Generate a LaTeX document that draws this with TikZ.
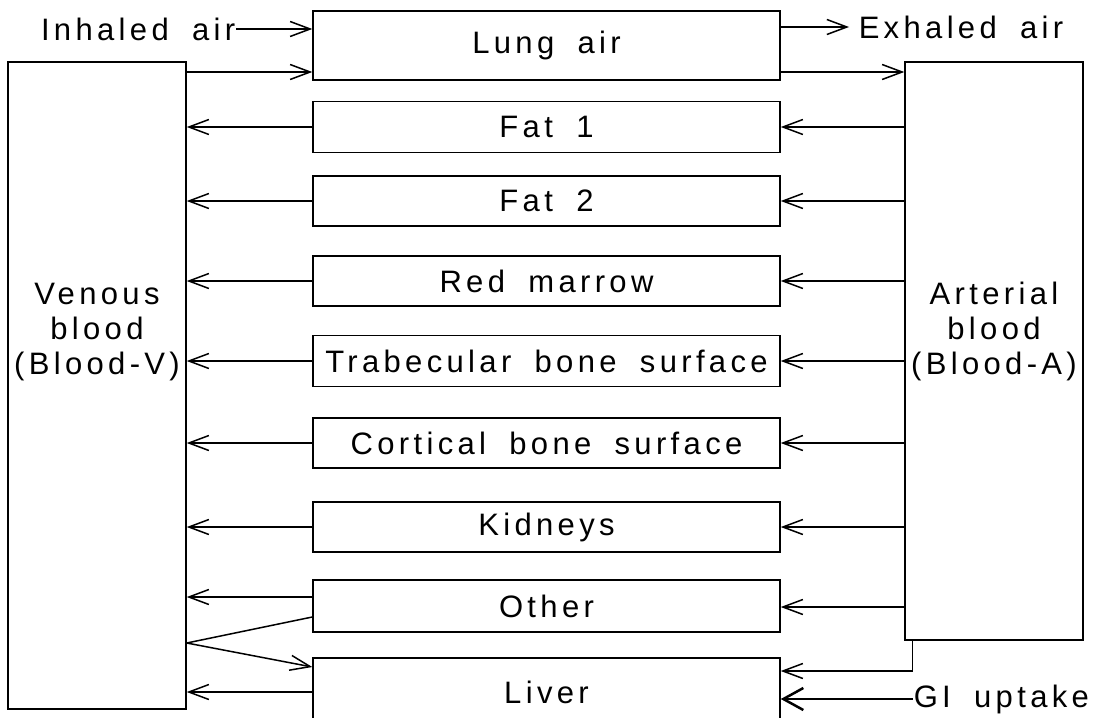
\documentclass[tikz,border=0pt]{standalone}
\usepackage{fontspec}
\setmainfont{Liberation Sans}[LetterSpace=14,WordSpace=1.8]
\usetikzlibrary{arrows.meta}
\newcommand\boxfont{\fontsize{31}{35}\selectfont}
\begin{document}
\begin{tikzpicture}[x=1pt, y=-1pt, line width=1.5pt,
    arr/.style={-{Straight Barb[length=20pt,width=15pt,line width=1.5pt]}},
    bigarr/.style={line width=2.5pt, -{Straight Barb[length=20pt,width=22pt,line width=2.5pt]}},
    compbox/.style={draw, rectangle, minimum width=467pt, inner sep=0pt, font=\boxfont},
    bloodbox/.style={draw, rectangle, minimum width=178pt, inner sep=0pt},
    lbl/.style={inner sep=0pt, font=\boxfont}]
    \useasboundingbox (0,0) rectangle (1118,717);
    % blood pools
    \node[bloodbox, minimum height=647pt] (venous) at (97,385.5) {};
    \node[bloodbox, minimum height=578pt] (arterial) at (994,351) {};
    \node[lbl, align=center] (venoustxt) at (97,332) {Venous\\blood\\(Blood-V)};
    \node[lbl, align=center] (arterialtxt) at (994,331) {Arterial\\blood\\(Blood-A)};
    % compartments
    \node[compbox, minimum height=69pt] (lung) at (546.5,45.5) {Lung air};
    \foreach \nm/\txt/\yc/\bh in {fat1/Fat 1/127/51, fat2/Fat 2/201/50,
        marrow/Red marrow/281/50, trab/Trabecular bone surface/361/51,
        cortical/Cortical bone surface/443/50, kidneys/Kidneys/527/50,
        other/Other/606/52, liver/Liver/692/68} {
        \node[compbox, minimum height=\bh pt] (\nm) at (546.5,\yc) {\txt};
    }
    % air
    \node[lbl, anchor=east] (inhaled) at (236,29) {Inhaled air};
    \node[lbl, anchor=west] (exhaled) at (858,27) {Exhaled air};
    \node[lbl, anchor=west] (gi) at (913,699) {GI uptake};
    \draw[arr] (inhaled.east) -- (inhaled.east -| lung.west);
    \draw[arr] (venous.east |- 0,72) -- (lung.west |- 0,72);
    \draw[arr] (lung.east |- exhaled.west) -- ([xshift=-9pt]exhaled.west);
    \draw[arr] (lung.east |- 0,72) -- (arterial.west |- 0,72);
    % flows through the tissues
    \foreach \nm in {fat1,fat2,marrow,trab,cortical,kidneys} {
        \draw[arr] (\nm.west) -- (\nm.west -| venous.east);
        \draw[arr] (\nm.east -| arterial.west) -- (\nm.east);
    }
    \draw[arr] (other.west |- 0,597) -- (venous.east |- 0,597);
    \draw[arr] (arterial.west |- 0,607) -- (other.east |- 0,607);
    \coordinate (vsplit) at (venous.east |- 0,643);
    \draw (other.west |- 0,617) -- (vsplit);
    \draw[arr] (vsplit) -- (liver.west |- 0,667);
    \draw[arr] (liver.west |- 0,692) -- (venous.east |- 0,692);
    \coordinate (abot) at ([xshift=8pt]arterial.south west);
    \draw[arr] (abot) |- (liver.east |- 0,671);
    \draw[bigarr] (gi.west) -- (gi.west -| liver.east);
\end{tikzpicture}
\end{document}
